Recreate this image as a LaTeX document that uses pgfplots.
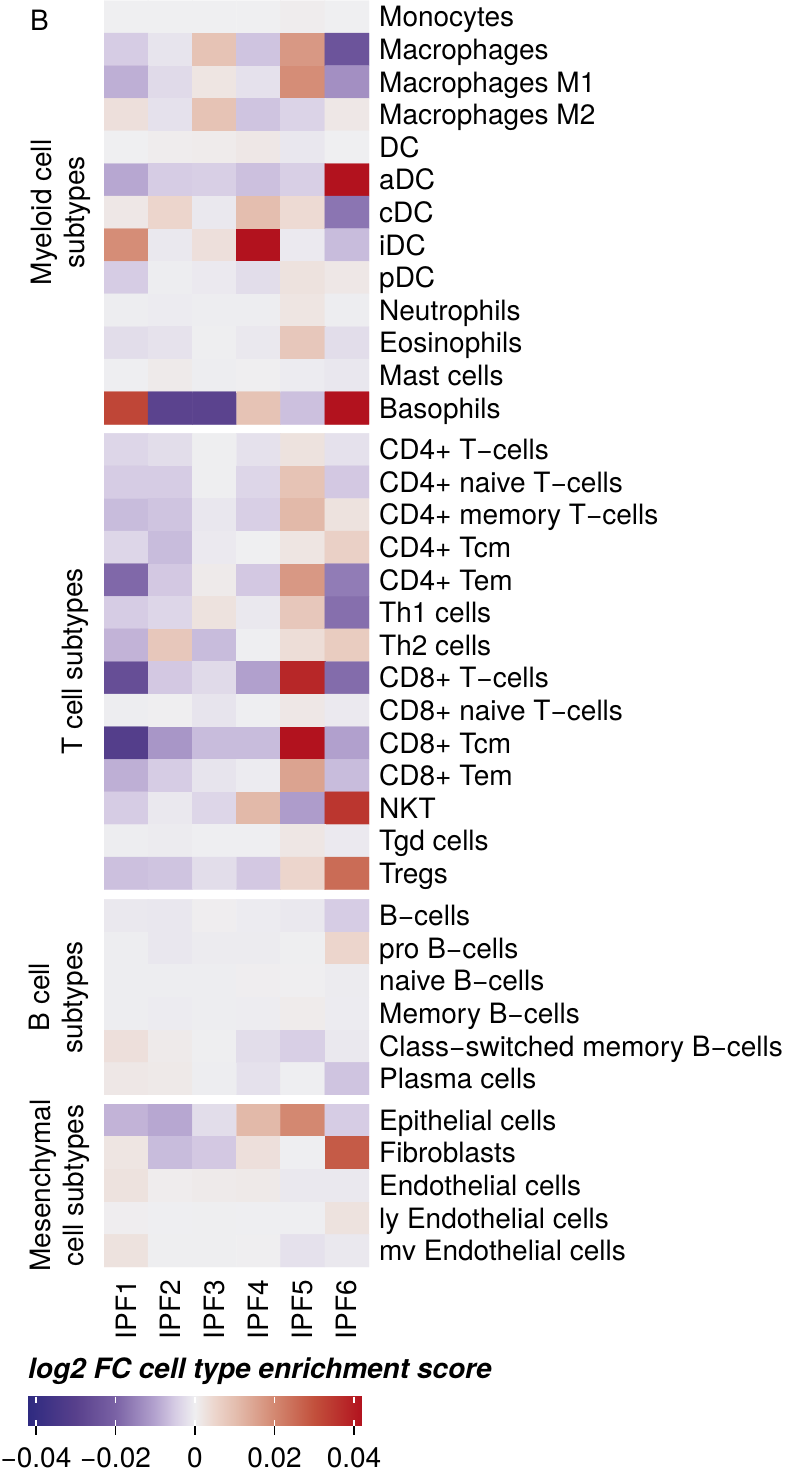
\documentclass[border=0pt]{standalone}
\usepackage{pgfplots}
\pgfplotsset{compat=1.18}
\usepackage{fontspec}
\setmainfont{TeX Gyre Heros}
\newcommand\lab{\fontsize{28}{33}\selectfont}
\pgfplotsset{
  colormap={ipf}{rgb255(0pt)=(46,42,128) rgb255(12pt)=(88,64,140) rgb255(22pt)=(122,98,165) rgb255(32pt)=(180,163,207) rgb255(37pt)=(214,204,228) rgb255(42pt)=(239,239,241) rgb255(47pt)=(236,213,204) rgb255(52pt)=(228,190,175) rgb255(62pt)=(211,136,113) rgb255(72pt)=(194,80,60) rgb255(84pt)=(178,18,30)},
  hm/.style={scale only axis, width=265pt, xmin=-0.5, xmax=5.5, y dir=reverse,
    enlargelimits=false, axis line style={draw=none}, major tick length=0pt,
    tick style={draw=none}, point meta min=-0.042, point meta max=0.042,
    xtick=\empty, yticklabel pos=right,
    tick label style={font=\lab},
    yticklabel style={anchor=base west, inner sep=0pt, xshift=10pt, yshift=-10pt},
    anchor=north west}
}
\begin{document}
\begin{tikzpicture}
\useasboundingbox (0,0) rectangle (785pt,-1473pt);
\node[anchor=base west, inner sep=0pt, font=\lab] at (30pt,-30pt) {B};
% Myeloid
\begin{axis}[hm, at={(104pt,-0.5pt)}, height=423.8pt, ymin=-0.5, ymax=12.5,
  ytick={0,...,12},
  yticklabels={Monocytes,Macrophages,Macrophages M1,Macrophages M2,DC,aDC,cDC,iDC,pDC,Neutrophils,Eosinophils,Mast cells,Basophils}]
\addplot[matrix plot*, mesh/cols=6, point meta=explicit] coordinates {
(0,0) [0] (1,0) [0] (2,0) [0] (3,0) [0] (4,0) [0.0005] (5,0) [0]
(0,1) [-0.005] (1,1) [-0.0015] (2,1) [0.009] (3,1) [-0.006] (4,1) [0.017] (5,1) [-0.024]
(0,2) [-0.0085] (1,2) [-0.003] (2,2) [0.002] (3,2) [-0.002] (4,2) [0.019] (5,2) [-0.013]
(0,3) [0.003] (1,3) [-0.002] (2,3) [0.009] (3,3) [-0.006] (4,3) [-0.004] (5,3) [0.0015]
(0,4) [0] (1,4) [0.0005] (2,4) [0.0008] (3,4) [0.0015] (4,4) [-0.0012] (5,4) [0]
(0,5) [-0.0095] (1,5) [-0.005] (2,5) [-0.0045] (3,5) [-0.0065] (4,5) [-0.0045] (5,5) [0.042]
(0,6) [0.0015] (1,6) [0.005] (2,6) [-0.001] (3,6) [0.010] (4,6) [0.004] (5,6) [-0.017]
(0,7) [0.019] (1,7) [-0.001] (2,7) [0.003] (3,7) [0.042] (4,7) [-0.0008] (5,7) [-0.007]
(0,8) [-0.005] (1,8) [-0.0003] (2,8) [-0.0008] (3,8) [-0.0025] (4,8) [0.0025] (5,8) [0.0015]
(0,9) [-0.0003] (1,9) [-0.0005] (2,9) [-0.0003] (3,9) [-0.0003] (4,9) [0.002] (5,9) [-0.0003]
(0,10) [-0.0025] (1,10) [-0.0018] (2,10) [-0.0002] (3,10) [-0.001] (4,10) [0.008] (5,10) [-0.0025]
(0,11) [-0.0001] (1,11) [0.001] (2,11) [-0.0003] (3,11) [0.0001] (4,11) [-0.0005] (5,11) [-0.0012]
(0,12) [0.032] (1,12) [-0.029] (2,12) [-0.029] (3,12) [0.009] (4,12) [-0.0065] (5,12) [0.042]
};
\end{axis}
% T cells
\begin{axis}[hm, at={(104pt,-433.3pt)}, height=456.4pt, ymin=-0.5, ymax=13.5,
  ytick={0,...,13},
  yticklabels={CD4+ T−cells,CD4+ naive T−cells,CD4+ memory T−cells,CD4+ Tcm,CD4+ Tem,Th1 cells,Th2 cells,CD8+ T−cells,CD8+ naive T−cells,CD8+ Tcm,CD8+ Tem,NKT,Tgd cells,Tregs}]
\addplot[matrix plot*, mesh/cols=6, point meta=explicit] coordinates {
(0,0) [-0.0035] (1,0) [-0.0025] (2,0) [-0.0002] (3,0) [-0.002] (4,0) [0.0025] (5,0) [-0.002]
(0,1) [-0.005] (1,1) [-0.005] (2,1) [-0.0002] (3,1) [-0.0035] (4,1) [0.009] (5,1) [-0.0055]
(0,2) [-0.007] (1,2) [-0.006] (2,2) [-0.0012] (3,2) [-0.0045] (4,2) [0.011] (5,2) [0.0025]
(0,3) [-0.0035] (1,3) [-0.007] (2,3) [-0.0008] (3,3) [0] (4,3) [0.002] (5,3) [0.006]
(0,4) [-0.019] (1,4) [-0.0055] (2,4) [0.001] (3,4) [-0.0055] (4,4) [0.017] (5,4) [-0.016]
(0,5) [-0.005] (1,5) [-0.0035] (2,5) [0.0025] (3,5) [-0.001] (4,5) [0.008] (5,5) [-0.018]
(0,6) [-0.008] (1,6) [0.008] (2,6) [-0.007] (3,6) [-0.0001] (4,6) [0.0035] (5,6) [0.007]
(0,7) [-0.026] (1,7) [-0.0055] (2,7) [-0.003] (3,7) [-0.0105] (4,7) [0.038] (5,7) [-0.0185]
(0,8) [-0.0003] (1,8) [0.0001] (2,8) [-0.0015] (3,8) [-0.0001] (4,8) [0.0015] (5,8) [-0.0008]
(0,9) [-0.031] (1,9) [-0.012] (2,9) [-0.007] (3,9) [-0.007] (4,9) [0.042] (5,9) [-0.0105]
(0,10) [-0.0085] (1,10) [-0.005] (2,10) [-0.0015] (3,10) [-0.0005] (4,10) [0.015] (5,10) [-0.007]
(0,11) [-0.005] (1,11) [-0.001] (2,11) [-0.0035] (3,11) [0.011] (4,11) [-0.011] (5,11) [0.035]
(0,12) [-0.0003] (1,12) [-0.0006] (2,12) [-0.0001] (3,12) [-0.0001] (4,12) [0.0018] (5,12) [-0.0008]
(0,13) [-0.0065] (1,13) [-0.006] (2,13) [-0.0025] (3,13) [-0.0055] (4,13) [0.005] (5,13) [0.025]
};
\end{axis}
% B cells
\begin{axis}[hm, at={(104pt,-899.3pt)}, height=195.6pt, ymin=-0.5, ymax=5.5,
  ytick={0,...,5},
  yticklabels={B−cells,pro B−cells,naive B−cells,Memory B−cells,Class−switched memory B−cells,Plasma cells}]
\addplot[matrix plot*, mesh/cols=6, point meta=explicit] coordinates {
(0,0) [-0.001] (1,0) [-0.0012] (2,0) [0.0003] (3,0) [-0.0005] (4,0) [-0.001] (5,0) [-0.005]
(0,1) [-0.0003] (1,1) [-0.0012] (2,1) [-0.0006] (3,1) [-0.0006] (4,1) [-0.0002] (5,1) [0.005]
(0,2) [-0.0003] (1,2) [-0.0003] (2,2) [-0.0003] (3,2) [0.0003] (4,2) [0.0002] (5,2) [-0.0006]
(0,3) [-0.0003] (1,3) [-0.0005] (2,3) [-0.0003] (3,3) [-0.0004] (4,3) [0.0008] (5,3) [-0.0005]
(0,4) [0.003] (1,4) [0.001] (2,4) [-0.0002] (3,4) [-0.0025] (4,4) [-0.0045] (5,4) [-0.001]
(0,5) [0.0015] (1,5) [0.0012] (2,5) [-0.0003] (3,5) [-0.002] (4,5) [-0.0001] (5,5) [-0.006]
};
\end{axis}
% Mesenchymal
\begin{axis}[hm, at={(104pt,-1104pt)}, height=163pt, ymin=-0.5, ymax=4.5,
  ytick={0,...,4},
  yticklabels={Epithelial cells,Fibroblasts,Endothelial cells,ly Endothelial cells,mv Endothelial cells},
  xtick={0,...,5}, xticklabels={IPF1,IPF2,IPF3,IPF4,IPF5,IPF6},
  xticklabel style={rotate=90, anchor=east, inner sep=0pt}, xticklabel shift=13pt,
  colorbar horizontal, colorbar/width=29pt,
  colorbar style={at={(parent axis.south west)}, anchor=north west,
    xshift=-76pt, yshift=-121pt, scale only axis, width=334pt, height=29pt,
    axis line style={draw=none}, axis on top, scaled x ticks=false,
    xtick={-0.04,-0.02,0,0.02,0.04},
    xticklabels={−0.04,−0.02,0,0.02,0.04},
    xtick pos=left, xticklabel pos=lower, tick align=outside,
    major tick length=9pt, tick style={draw=black, line width=1.4pt},
    xticklabel style={font=\lab, inner sep=0pt}, xticklabel shift=13pt,
    extra x ticks={-0.04,-0.02,0,0.02,0.04}, extra x tick labels={},
    extra x tick style={xtick pos=both, tick align=inside, major tick length=6pt,
      tick style={draw=white, line width=1.4pt}},
    ytick=\empty}]
\addplot[matrix plot*, mesh/cols=6, point meta=explicit] coordinates {
(0,0) [-0.008] (1,0) [-0.0095] (2,0) [-0.0025] (3,0) [0.011] (4,0) [0.020] (5,0) [-0.005]
(0,1) [0.002] (1,1) [-0.007] (2,1) [-0.0055] (3,1) [0.003] (4,1) [-0.0001] (5,1) [0.028]
(0,2) [0.0025] (1,2) [0.0005] (2,2) [0.001] (3,2) [0.0012] (4,2) [-0.001] (5,2) [-0.001]
(0,3) [0.0003] (1,3) [-0.0001] (2,3) [-0.0002] (3,3) [-0.0001] (4,3) [-0.0001] (5,3) [0.0025]
(0,4) [0.0025] (1,4) [-0.0002] (2,4) [-0.0002] (3,4) [0.0002] (4,4) [-0.002] (5,4) [-0.001]
};
\end{axis}
% group labels
\node[rotate=90, anchor=south, align=center, inner sep=0pt, font=\lab] at (91pt,-212.4pt) {Myeloid cell\\subtypes};
\node[rotate=90, anchor=south, align=center, inner sep=0pt, font=\lab] at (89pt,-661.5pt) {T cell subtypes};
\node[rotate=90, anchor=south, align=center, inner sep=0pt, font=\lab] at (89pt,-997.1pt) {B cell\\subtypes};
\node[rotate=90, anchor=south, align=center, inner sep=0pt, font=\lab] at (90pt,-1185.5pt) {Mesenchymal\\cell subtypes};
\node[anchor=base west, inner sep=0pt, font=\lab\bfseries\itshape] at (28pt,-1378pt) {log2 FC cell type enrichment score};
\end{tikzpicture}
\end{document}
